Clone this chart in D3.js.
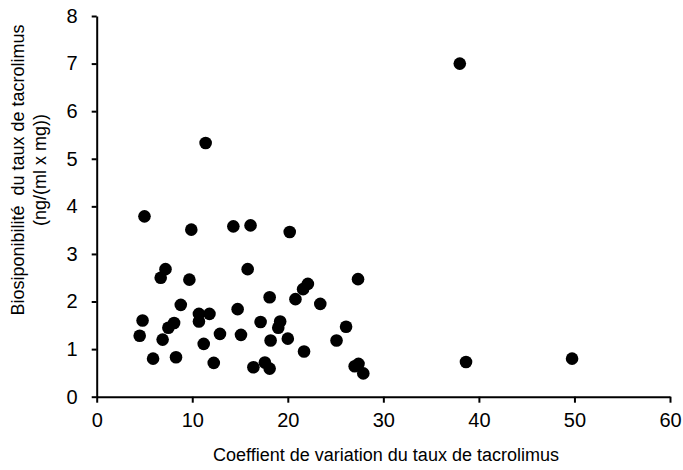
<!DOCTYPE html>
<html>
<head>
<meta charset="utf-8">
<script src="https://cdn.jsdelivr.net/npm/d3@7.9.0/dist/d3.min.js"></script>
<style>
  body { margin: 0; background: #fff; }
  text { font-family: "Liberation Sans", Arial, sans-serif; fill: #000; }
</style>
</head>
<body>
<div id="chart"></div>
<script>
// coefficient of variation (x) and bioavailability (y)
const cv = [
  38.0, 11.4, 5.0, 9.9, 14.3, 16.1, 20.2, 7.2, 6.7, 9.7,
  15.8, 8.8, 18.1, 20.8, 21.6, 22.1, 27.35, 23.4, 4.8, 4.5,
  10.7, 10.7, 11.8, 14.75, 7.5, 8.1, 6.9, 5.9, 8.3, 11.2,
  12.9, 15.1, 12.25, 17.15, 19.2, 19.0, 18.2, 20.0, 16.4, 17.6,
  18.1, 21.7, 26.1, 25.1, 27.0, 27.4, 27.9, 38.65, 49.75
];
const bio = [
  7.0, 5.33, 3.79, 3.51, 3.58, 3.60, 3.46, 2.68, 2.50, 2.46,
  2.68, 1.93, 2.09, 2.05, 2.26, 2.37, 2.47, 1.95, 1.60, 1.28,
  1.74, 1.58, 1.74, 1.84, 1.45, 1.55, 1.20, 0.80, 0.83, 1.11,
  1.32, 1.30, 0.71, 1.57, 1.58, 1.45, 1.18, 1.22, 0.62, 0.72,
  0.59, 0.95, 1.47, 1.18, 0.64, 0.69, 0.49, 0.73, 0.80
];
const xTicks = [0, 10, 20, 30, 40, 50, 60];
const yTicks = [0, 1, 2, 3, 4, 5, 6, 7, 8];

const points = cv.map((x, i) => ({ x, y: bio[i] }));

const width = 683, height = 470;
const plot = { left: 96.7, right: 670, top: 16, bottom: 396.7 };

const svg = d3.select('#chart').append('svg')
  .attr('width', width)
  .attr('height', height);

const x = d3.scaleLinear().domain([0, 60]).range([plot.left, plot.right]);
const y = d3.scaleLinear().domain([0, 8]).range([plot.bottom, plot.top]);

const xAxis = svg.append('g')
  .attr('transform', `translate(0,${plot.bottom})`)
  .call(d3.axisBottom(x).tickValues(xTicks).tickSize(6).tickSizeOuter(0).tickPadding(10));

const yAxis = svg.append('g')
  .attr('transform', `translate(${plot.left},0)`)
  .call(d3.axisLeft(y).tickValues(yTicks).tickSize(5).tickSizeOuter(0).tickPadding(14));

[xAxis, yAxis].forEach(g => {
  g.attr('font-family', null).attr('font-size', null);
  g.selectAll('path, line').attr('stroke', '#000').attr('stroke-width', 2);
  g.selectAll('text').style('font-size', '20px');
});

svg.append('g')
  .selectAll('circle')
  .data(points)
  .join('circle')
  .attr('cx', d => x(d.x))
  .attr('cy', d => y(d.y))
  .attr('r', 6.3)
  .attr('fill', '#000');

svg.append('text')
  .attr('x', 386)
  .attr('y', 461)
  .attr('text-anchor', 'middle')
  .style('font-size', '18px')
  .text('Coeffient de variation du taux de tacrolimus');

const yTitle = svg.append('text')
  .attr('transform', 'translate(0,170) rotate(-90)')
  .attr('text-anchor', 'middle')
  .style('font-size', '18px')
  .style('white-space', 'pre');
yTitle.append('tspan').attr('x', 0).attr('y', 24).text('Biosiponibilité  du taux de tacrolimus');
yTitle.append('tspan').attr('x', 0).attr('y', 46).text('(ng/(ml x mg))');
</script>
</body>
</html>
